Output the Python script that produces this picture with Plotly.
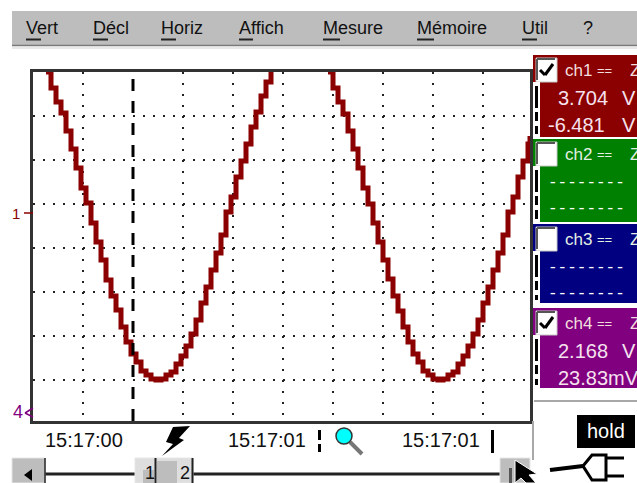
import plotly.graph_objects as go

W, H = 637, 483
FRAME_L, FRAME_R, FRAME_T, FRAME_B = 33, 530, 72, 421

# Waveform: sample index and ADC-like level above the frame floor
sample_a = [13, 18, 23, 28, 33, 38, 43, 48, 53, 58, 63, 68, 73, 78, 83, 88, 93, 98, 103, 108, 113, 118, 123, 128, 133, 138, 143, 148, 153, 158, 163, 168, 173, 178, 183, 188, 193, 198, 203, 208, 213, 218, 223, 228, 233, 238]
level_a = [349, 333, 319, 308, 290, 272, 253, 233, 218, 198, 179, 161, 141, 125, 111, 94, 79, 67, 59, 50, 46, 42, 41, 42, 46, 49, 57, 65, 75, 87, 101, 118, 134, 151, 168, 186, 209, 224, 244, 260, 277, 294, 309, 325, 339, 353]
sample_b = [295, 300, 305, 310, 315, 320, 325, 330, 335, 340, 345, 350, 355, 360, 365, 370, 375, 380, 385, 390, 395, 400, 405, 410, 415, 420, 425, 430, 435, 440, 445, 450, 455, 460, 465, 470, 475, 480, 485, 490, 495, 497]
level_b = [349, 333, 319, 307, 290, 272, 253, 233, 217, 198, 179, 161, 142, 125, 110, 94, 79, 67, 59, 50, 46, 42, 41, 42, 46, 49, 57, 65, 75, 87, 101, 118, 134, 151, 168, 186, 209, 224, 244, 260, 277, 285]
cursor_sample = [100, 100]
cursor_level = [0, 349]
grid_x = [50, 150, 200, 250, 300, 350, 400, 450]
grid_y = [305, 261, 217, 173, 129, 85, 41]

menu_labels = ["Vert", "Décl", "Horiz", "Affich", "Mesure", "Mémoire", "Util", "?"]
menu_x = [26, 93, 161, 239, 323, 417, 522, 583]
menu_under = [15, 15, 15, 14, 17, 17, 15, 0]
time_labels = ["15:17:00", "15:17:01", "15:17:01"]
time_x = [45, 228, 402]
channels = [
    ("ch1", "#8b0000", 55, 137, True, "3.704", "V", 558, "-6.481", "V", 548),
    ("ch2", "#008000", 139, 222, False, "--------", "", 548, "--------", "", 548),
    ("ch3", "#000080", 224, 303, False, "--------", "", 548, "--------", "", 548),
    ("ch4", "#800080", 308, 388, True, "2.168", "V", 558, "23.83mV", "", 558),
]

fx = lambda p: (p - FRAME_L) / (FRAME_R - FRAME_L)
fy = lambda p: (FRAME_B - p) / (FRAME_B - FRAME_T)
shapes, annos = [], []


def rect(x0, y0, x1, y1, fill, line=None, lw=0):
    shapes.append(dict(type="rect", xref="paper", yref="paper", x0=fx(x0), x1=fx(x1), y0=fy(y0), y1=fy(y1),
                       fillcolor=fill, line=dict(color=line or fill, width=lw), layer="above"))


def seg(x0, y0, x1, y1, color="#000000", lw=1):
    shapes.append(dict(type="line", xref="paper", yref="paper", x0=fx(x0), x1=fx(x1), y0=fy(y0), y1=fy(y1),
                       line=dict(color=color, width=lw), layer="above"))


def poly(pts, fill, line=None, lw=0):
    d = "M " + " L ".join(f"{fx(x):.5f},{fy(y):.5f}" for x, y in pts) + " Z"
    shapes.append(dict(type="path", xref="paper", yref="paper", path=d, fillcolor=fill,
                       line=dict(color=line or fill, width=lw), layer="above"))


def text(x, y, s, color="#111111", size=15, anchor="left", family="Liberation Sans"):
    annos.append(dict(xref="paper", yref="paper", x=fx(x), y=fy(y), text=s, showarrow=False, xanchor=anchor,
                      yanchor="middle", font=dict(family=family, size=size, color=color), borderpad=0, borderwidth=0))


# menu bar
rect(12, 11, W, 45, "#bdbdbd")
seg(12, 45.5, W, 45.5, "#7a7a7a", 1.5)
seg(12, 48, W, 48, "#e2e2e2", 1.5)
for s, x, u in zip(menu_labels, menu_x, menu_under):
    text(x, 28, s, size=18)
    if u:
        seg(x, 39.5, x + u, 39.5, "#222222", 2)

# channel panels
for name, col, y0, y1, checked, v1, u1, x1, v2, u2, x2 in channels:
    rect(533, y0, W, y1, col)
    rect(536, y0 + 3, 557, y0 + 27, "#ffffff", "#c8c8c8", 1)
    seg(537, y0 + 4, 555, y0 + 4, "#555555", 2)
    seg(537, y0 + 4, 537, y0 + 25, "#555555", 2)
    if checked:
        seg(540, y0 + 15, 545, y0 + 20, "#000000", 3)
        seg(545, y0 + 20, 553, y0 + 9, "#000000", 3)
    rect(533, y0 + 27, 540, y1, "#ffffff")
    rect(535, y0 + 31, 538, y0 + 53, "#000000")
    rect(535, y0 + 57, 538, y0 + 66, "#000000")
    rect(535, y0 + 71, 538, y1 - 3, "#000000")
    pale = "#f3dede" if checked else "#e4f0e4"
    text(565, y0 + 15, name, pale, 17)
    text(597, y0 + 15, "==", pale, 13)
    text(630, y0 + 15, "Z", pale, 17)
    if v1.startswith("--"):
        text(x1, y0 + 44, v1, "#ffffff", 16, family="Liberation Mono")
        text(x2, y0 + 70, v2, "#ffffff", 16, family="Liberation Mono")
    else:
        text(x1, y0 + 43, v1, "#f6e2ee", 20)
        text(x2, y0 + 70, v2, "#f6e2ee", 20)
        if u1:
            text(622, y0 + 43, u1, "#f6e2ee", 20)
        if u2:
            text(622, y0 + 70, u2, "#f6e2ee", 20)

# left side markers
text(12, 213, "1", "#8b0000", 15)
seg(24, 213, 33, 213, "#8b0000", 1.5)
text(13, 412, "4", "#800080", 18)
seg(25, 413, 33, 408, "#800080", 1.5)
seg(25, 413, 33, 417, "#800080", 1.5)

# time strip
for s, x in zip(time_labels, time_x):
    text(x, 440, s, size=20)
poly([(173, 427), (190, 426), (179, 438), (184, 440), (162, 456), (173, 444), (166, 442)], "#000000")
rect(318, 430, 321, 440, "#000000")
rect(318, 444, 321, 452, "#000000")
rect(491, 430, 494, 453, "#000000")
seg(350, 442, 362, 454, "#777777", 4)
shapes.append(dict(type="circle", xref="paper", yref="paper", x0=fx(336), x1=fx(352), y0=fy(444), y1=fy(428),
                   fillcolor="#00ffff", line=dict(color="#333333", width=1.5), layer="above"))

# scrollbar
seg(45, 474, 500, 474, "#222222", 3)
rect(12, 458, 45, H, "#bdbdbd", "#e6e6e6", 1)
poly([(24, 475), (32, 469), (32, 481)], "#000000")
seg(45, 458, 45, H, "#222222", 1.5)
rect(135, 458, 193, H, "#dedede", "#e6e6e6", 1)
rect(157, 461, 177, H, "#bdbdbd")
rect(143, 470, 154, H, "#bdbdbd")
seg(155.5, 458, 155.5, H, "#222222", 2)
seg(192.5, 458, 192.5, H, "#222222", 2)
text(149.5, 473, "1", "#111111", 18, "center")
text(185, 473, "2", "#111111", 18, "center")
rect(500, 458, 530, H, "#bdbdbd", "#e6e6e6", 1)
rect(509, 468, 512, H, "#555555")
poly([(515, 460), (515, 483), (521, 478), (526, 483), (536, 483), (529, 475), (537, 474)], "#000000", "#ffffff", 1)

# hold box and plug
seg(534, 401, W, 401, "#a8a8a8", 2)
seg(533, 421, 533, 460, "#a8a8a8", 2)
rect(577, 415, 635, 448, "#000000")
text(606, 431, "hold", "#ffffff", 20, "center")
seg(550, 470, 583, 466, "#000000", 4)
poly([(583, 466), (592, 455), (606, 455), (606, 480), (592, 480)], "#ffffff", "#000000", 3)
seg(606, 458, 624, 458, "#000000", 3)
seg(606, 476, 624, 476, "#000000", 3)

fig = go.Figure()
fig.add_trace(go.Scatter(x=sample_a, y=level_a, mode="lines", line=dict(color="#8b0000", width=5, shape="hv"), hoverinfo="skip"))
fig.add_trace(go.Scatter(x=sample_b, y=level_b, mode="lines", line=dict(color="#8b0000", width=5, shape="hv"), hoverinfo="skip"))
fig.add_trace(go.Scatter(x=cursor_sample, y=cursor_level, mode="lines", line=dict(color="#000000", width=3, dash="12px,10px"), hoverinfo="skip"))
fig.update_layout(
    width=W, height=H, showlegend=False, paper_bgcolor="#ffffff", plot_bgcolor="#ffffff",
    margin=dict(l=FRAME_L, r=W - FRAME_R, t=FRAME_T, b=H - FRAME_B, pad=0),
    shapes=shapes, annotations=annos,
    xaxis=dict(range=[0, FRAME_R - FRAME_L], tickvals=grid_x, showticklabels=False, ticks="", zeroline=False,
               showgrid=True, gridcolor="#222222", gridwidth=2, griddash="2px,9px",
               showline=True, mirror=True, linecolor="#333333", linewidth=3),
    yaxis=dict(range=[0, FRAME_B - FRAME_T], tickvals=grid_y, showticklabels=False, ticks="", zeroline=False,
               showgrid=True, gridcolor="#222222", gridwidth=2, griddash="2px,8px",
               showline=True, mirror=True, linecolor="#333333", linewidth=3),
)
fig.write_html("out.html", config=dict(displayModeBar=False), post_script="document.body.style.margin='0';")
